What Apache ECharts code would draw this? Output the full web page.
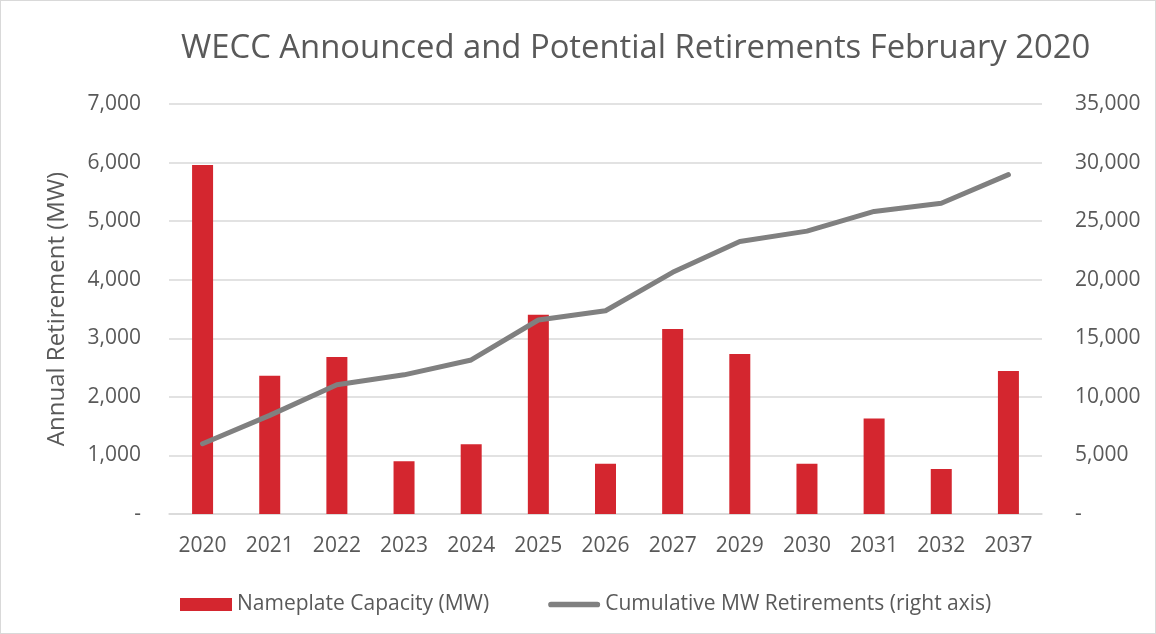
<!DOCTYPE html>
<html>
<head>
<meta charset="utf-8">
<script src="https://cdn.jsdelivr.net/npm/echarts@6/dist/echarts.min.js"></script>
<style>
html, body { margin: 0; padding: 0; background: #fff; }
#chart { width: 1156px; height: 634px; box-sizing: border-box; border: 1px solid #d9d9d9; }
</style>
</head>
<body>
<div id="chart"></div>
<script>
var years = ['2020', '2021', '2022', '2023', '2024', '2025', '2026', '2027', '2029', '2030', '2031', '2032', '2037'];
var nameplate = [5960, 2360, 2680, 900, 1190, 3400, 860, 3160, 2730, 860, 1630, 770, 2440];
var cumulative = [6000, 8420, 11030, 11880, 13150, 16560, 17350, 20630, 23270, 24150, 25830, 26530, 28970];

var font = 'Open Sans';
var grey = '#595959';

function fmt(v) {
    return v === 0 ? '-' : v.toLocaleString('en-US');
}

echarts.init(document.getElementById('chart')).setOption({
    textStyle: { fontFamily: font },
    title: {
        text: 'WECC Announced and Potential Retirements February 2020',
        left: 175,
        top: 26,
        textStyle: { color: grey, fontSize: 32.8, fontWeight: 'normal', fontFamily: font }
    },
    legend: {
        top: 588,
        left: 174,
        itemGap: 59,
        itemWidth: 52,
        itemHeight: 13,
        textStyle: { color: grey, fontSize: 21, fontFamily: font },
        data: [
            { name: 'Nameplate Capacity (MW)', icon: 'rect' },
            { name: 'Cumulative MW Retirements (right axis)', icon: 'path://M3,0h49a3,3 0 0 1 0,6h-49a3,3 0 0 1 0,-6z' }
        ]
    },
    grid: { left: 168, right: 113, top: 103, bottom: 119 },
    xAxis: {
        type: 'category',
        data: years,
        axisLine: { lineStyle: { color: '#d9d9d9', width: 1.5 } },
        axisTick: { show: false },
        axisLabel: { color: grey, fontSize: 21, margin: 22 }
    },
    yAxis: [
        {
            type: 'value',
            min: 0,
            max: 7000,
            interval: 1000,
            name: 'Annual Retirement (MW)',
            nameLocation: 'middle',
            nameGap: 100,
            nameTextStyle: { color: grey, fontSize: 24 },
            splitLine: { lineStyle: { color: '#d9d9d9', width: 1.5 } },
            axisLabel: { color: grey, fontSize: 21, margin: 28, formatter: fmt }
        },
        {
            type: 'value',
            min: 0,
            max: 35000,
            interval: 5000,
            splitLine: { show: false },
            axisLabel: { color: grey, fontSize: 21, margin: 33, formatter: fmt }
        }
    ],
    series: [
        {
            name: 'Nameplate Capacity (MW)',
            type: 'bar',
            data: nameplate,
            barWidth: 21,
            itemStyle: { color: '#d4262f' }
        },
        {
            name: 'Cumulative MW Retirements (right axis)',
            type: 'line',
            yAxisIndex: 1,
            data: cumulative,
            symbol: 'none',
            lineStyle: { color: '#808080', width: 5, cap: 'round', join: 'round' },
            itemStyle: { color: '#808080' }
        }
    ]
});
</script>
</body>
</html>
